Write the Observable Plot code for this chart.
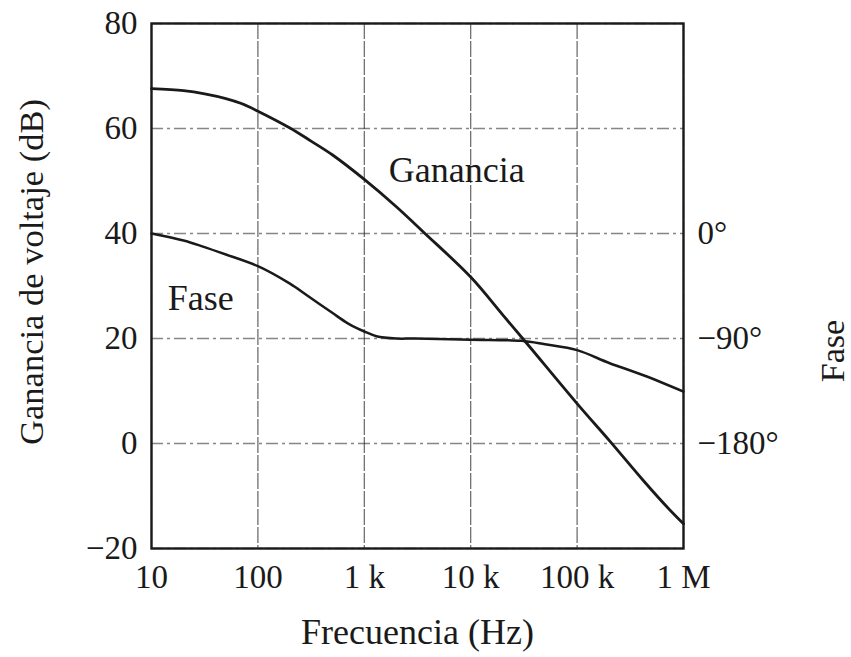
<!DOCTYPE html>
<html><head><meta charset="utf-8">
<script src="https://cdn.jsdelivr.net/npm/d3@7"></script>
<script src="https://cdn.jsdelivr.net/npm/@observablehq/plot@0.6"></script>
<style>body{margin:0;background:#fff}</style>
</head><body><div id="chart"></div>
<script>
// Gain curve (dB) vs frequency (Hz)
const gainFreq = [10, 20, 31.6, 50, 70, 100, 200, 316, 500, 1000, 2000, 3630, 10000, 20000, 33900, 100000, 204000, 417000, 708000, 1000000];
const gainDb   = [67.6, 67.2, 66.6, 65.7, 64.75, 63.3, 60.1, 57.6, 55.0, 50.3, 45.1, 40.2, 31.7, 24.5, 19.0, 7.6, 0.4, -7.0, -12.2, -15.3];
// Phase curve (degrees) vs frequency (Hz)
const phaseFreq = [10, 20, 30, 50, 100, 200, 300, 500, 700, 1000, 1300, 2000, 3000, 10000, 30000, 50000, 100000, 200000, 420000, 1000000];
const phaseDeg  = [0, -6, -11, -18, -28, -43, -54, -68, -77, -84, -88, -90, -90, -91, -92, -95, -100, -111, -121.5, -135.5];
// Axes
const xTicks = [10, 100, 1000, 10000, 100000, 1000000];
const xTickLabels = ["10", "100", "1 k", "10 k", "100 k", "1 M"];
const yTicks = [-20, 0, 20, 40, 60, 80];
const phaseTicks = [0, -90, -180];
const phaseTickLabels = ["0°", "−90°", "−180°"];
// Curve labels
const curveLabels = ["Ganancia", "Fase"];
const curveLabelFreq = [7400, 29];
const curveLabelDb = [52, 27.6];

// phase degrees mapped onto the gain axis: 0° ↔ 40 dB, −90° ↔ 20 dB
const phaseToDb = d => 40 + d * 20 / 90;

const gain = gainFreq.map((f, i) => ({f, v: gainDb[i]}));
const phase = phaseFreq.map((f, i) => ({f, deg: phaseDeg[i]}));
const labels = curveLabels.map((t, i) => ({t, f: curveLabelFreq[i], v: curveLabelDb[i]}));
const xTickData = xTicks.map((f, i) => ({f, t: xTickLabels[i]}));

const font = "'Liberation Serif', 'Times New Roman', serif";
const ink = "#1a1a1a";

const chart = Plot.plot({
  width: 851, height: 657,
  marginLeft: 151, marginRight: 168, marginTop: 23, marginBottom: 109,
  style: {fontFamily: font, background: "#fff", color: ink},
  x: {type: "log", domain: [10, 1e6], axis: null},
  y: {domain: [-20, 80], axis: null},
  marks: [
    Plot.gridX(xTicks, {stroke: "#222", strokeOpacity: 0.7, strokeWidth: 1.2, strokeDasharray: "16,2"}),
    Plot.gridY(yTicks, {stroke: "#222", strokeOpacity: 0.55, strokeWidth: 1.3, strokeDasharray: "12,4,3,4"}),
    Plot.frame({stroke: ink, strokeWidth: 2.4}),
    Plot.line(gain, {x: "f", y: "v", curve: "catmull-rom", stroke: ink, strokeWidth: 2.8}),
    Plot.line(phase, {x: "f", y: d => phaseToDb(d.deg), curve: "catmull-rom", stroke: ink, strokeWidth: 2.5}),
    Plot.text(xTickData, {x: "f", text: "t", frameAnchor: "bottom", dy: 39, fontSize: 33, fill: ink}),
    Plot.axisY(yTicks, {tickFormat: d => d < 0 ? "−" + (-d) : String(d), tickSize: 0, tickPadding: 14, fontSize: 33, label: null, fill: ink}),
    Plot.axisY(phaseTicks.map(phaseToDb), {anchor: "right", tickFormat: (d, i) => phaseTickLabels[i], tickSize: 0, tickPadding: 14, fontSize: 33, label: null, fill: ink}),
    Plot.text(labels, {x: "f", y: "v", text: "t", fontSize: 36, fill: ink}),
    Plot.text(["Frecuencia (Hz)"], {frameAnchor: "bottom", dy: 95, fontSize: 36, fill: ink}),
    Plot.text(["Ganancia de voltaje (dB)"], {frameAnchor: "left", textAnchor: "middle", dx: -120, dy: -14, rotate: -90, fontSize: 34.5, fill: ink}),
    Plot.text(["Fase"], {frameAnchor: "right", textAnchor: "middle", dx: 150, dy: 65, rotate: -90, fontSize: 34, fill: ink})
  ]
});
document.getElementById("chart").appendChild(chart);
</script>
</body></html>
